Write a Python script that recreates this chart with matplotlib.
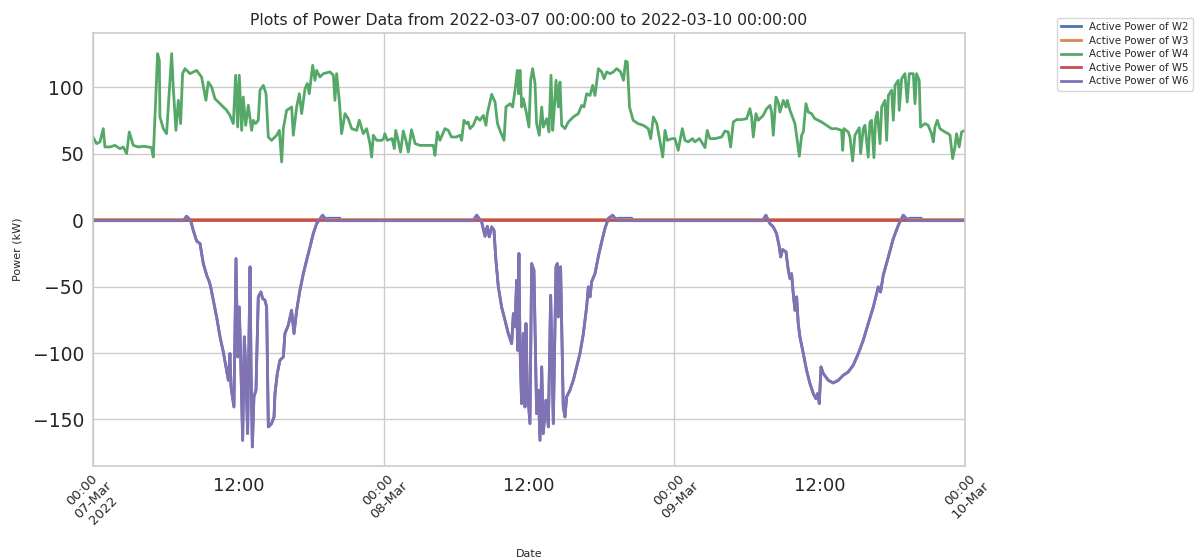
import matplotlib
matplotlib.use("Agg")
import matplotlib.pyplot as plt
import numpy as np
import pandas as pd

START = "2022-03-07 00:00:00"
END = "2022-03-10 00:00:00"

series_names = ["Active Power of W2", "Active Power of W3", "Active Power of W4",
                "Active Power of W5", "Active Power of W6"]
colors = ["#4c72b0", "#dd8452", "#55a868", "#c44e52", "#8172b3"]

major_labels = ["00:00\n07-Mar\n2022", "00:00\n08-Mar", "00:00\n09-Mar", "00:00\n10-Mar"]
minor_labels = ["12:00", "12:00", "12:00"]
yticks = [-150, -100, -50, 0, 50, 100]

# ---- W4 (green): hours from start, values in kW ----
w4_day1_h = [0, 0.3, 0.58, 0.85, 0.99, 1.4, 1.82, 2.23, 2.5, 2.78, 3.0, 3.33, 3.74, 4.16, 4.57, 4.84, 4.98,
             5.34, 5.48, 5.53, 5.81, 6.08, 6.22, 6.5, 6.63, 6.85, 7.05, 7.24, 7.4, 7.6, 8.01, 8.56, 8.97,
             9.25, 9.33, 9.52, 9.8, 10.07, 10.49, 11.04, 11.31, 11.59, 11.78, 11.95, 12.08, 12.28, 12.41,
             12.61, 12.83, 13.1, 13.24, 13.43, 13.65, 13.79, 14.07, 14.29, 14.48, 14.75, 15.17, 15.39,
             15.58, 15.72, 15.99, 16.41, 16.54, 16.82, 17.04, 17.23, 17.51, 17.7, 17.86, 18.14, 18.33,
             18.47, 18.74, 19.02, 19.57, 19.85, 19.98, 20.12, 20.34, 20.53, 20.81, 21.08, 21.36, 21.77,
             21.99, 22.32, 22.6, 22.87, 23.01, 23.15, 23.42, 23.84]
w4_day1_v = [62.7, 57.7, 59, 69, 55.2, 55.2, 56.4, 53.9, 55.2, 50.2, 66.5, 56.4, 55.2, 55.7, 55.2, 54.7, 47.6,
             125.5, 120.4, 77.8, 69, 65.2, 85.3, 125.5, 100.4, 67.7, 90.3, 72.8, 110.4, 114.2, 110.4, 112.9,
             107.9, 94.1, 90.3, 104.1, 100.4, 91.6, 87.8, 82.8, 79, 72.8, 109.2, 70.2, 109.2, 67.7, 92.8,
             71.5, 86.6, 67.7, 75.3, 72.8, 75.3, 97.9, 101.6, 95.3, 62.7, 60.2, 64, 67.7,
             43.9, 69, 82.8, 85.3, 64, 85.3, 95.3, 80.3, 99.1, 102.9, 95.3, 116.7, 105.4,
             112.9, 107.9, 110.4, 111.7, 109.2, 90.3, 110.4, 90.3, 65.2, 80.3, 76.5, 69, 67.7,
             75.3, 65.2, 69, 57.7, 47.6, 64, 60.2, 60.2]

w4_day2_h = [24.0, 24.1, 24.3, 24.7, 24.88, 25.0, 25.2, 25.4, 25.62, 25.84, 26.04, 26.3, 26.6, 27.0, 27.6,
             28.1, 28.24, 28.43, 28.65, 29.06, 29.34, 29.6, 30.0, 30.3, 30.44, 30.63, 30.85, 30.98, 31.13,
             31.4, 31.68, 31.95, 32.23, 32.45, 32.56, 32.92, 33.2, 33.4, 33.6, 33.94, 34.1, 34.43, 34.65,
             34.85, 35.04, 35.15, 35.26, 35.4, 35.53, 35.8, 36.0, 36.14, 36.3, 36.5, 36.63, 36.85, 37.05,
             37.19, 37.46, 37.65, 37.82, 37.96, 38.1, 38.23, 38.42, 38.56, 38.7, 38.97, 39.25, 39.66,
             40.07, 40.35, 40.54, 40.76, 41.04, 41.26, 41.45, 41.73, 42.0, 42.2, 42.42, 42.7, 42.97,
             43.24, 43.57, 43.8, 43.98, 44.12, 44.3, 44.6, 45.0, 45.44, 45.85, 46.05, 46.27, 46.55,
             46.8, 47.04, 47.23, 47.42, 47.8]
w4_day2_v = [61.5, 65.2, 60.2, 61.5, 54, 67.7, 60, 51.4, 67.2, 60.2, 51.4, 68.2, 57.7, 56.4, 56.4,
             56.4, 48.9, 66.5, 60.2, 69, 67.7, 62.7, 62.7, 64, 60.2, 75.3, 72.8, 74, 69,
             71.5, 77.8, 75.3, 79, 71.5, 80.3, 94.8, 89, 72.8, 67.7, 60.2, 85.3, 87.8, 85.3,
             97.9, 112.9, 95.3, 112.9, 85.3, 91.6, 80.3, 70.2, 105.4, 114.2, 102.9, 72.8, 64, 85.3,
             70.2, 76.5, 66.5, 109.2, 67.7, 85.3, 105.4, 85.3, 104.1, 71.5, 69, 74, 77.8,
             80.3, 86.5, 85.3, 95.3, 94, 101.6, 94, 114.2, 111.7, 106.6, 111.7, 110.4, 111.7,
             114.2, 111.7, 105.4, 119.9, 119.2, 85.3, 75.3, 72.8, 71.5, 69, 61.5, 77.8, 72.8,
             60.2, 47.6, 67.7, 60.2, 61.5]

w4_day3_h = [48.05, 48.32, 48.66, 48.88, 49.15, 49.5, 49.7, 50.06, 50.25, 50.53, 50.72, 50.94, 51.35,
             51.9, 52.18, 52.45, 52.65, 52.87, 53.14, 53.55, 53.97, 54.24, 54.38, 54.52, 54.74, 54.93,
             55.34, 55.62, 55.9, 56.03, 56.17, 56.39, 56.58, 56.72, 57.0, 57.22, 57.33, 57.55, 57.96,
             58.15, 58.32, 58.51, 58.65, 58.87, 59.06, 59.33, 59.6, 59.88, 60.16, 60.57, 60.98, 61.4,
             61.81, 61.9, 62.0, 62.36, 62.5, 62.72, 62.91, 63.27, 63.38, 63.6, 63.74, 64.01, 64.15,
             64.29, 64.48, 64.62, 64.76, 64.98, 65.12, 65.39, 65.53, 65.67, 65.94, 66.08, 66.22, 66.49,
             66.57, 66.77, 67.04, 67.23, 67.4, 67.73, 67.87, 68.0, 68.22, 68.33, 68.69, 68.96, 69.24,
             69.38, 69.52, 69.71, 69.93, 70.34, 70.62, 70.76, 70.98, 71.17, 71.3, 71.52, 71.72, 72.0]
w4_day3_v = [61.5, 52.7, 69, 60.2, 59, 61.5, 59, 61.5, 59, 54.7, 67.7, 61.5, 61.5,
             62.7, 67.2, 66.5, 55.2, 74, 75.8, 75.8, 76.5, 84, 77.8, 62.7, 80.3, 75.3,
             79, 84, 86.5, 81.5, 64, 92.8, 89, 81.5, 90.3, 85.3, 90.3, 82.8, 72.8,
             60.2, 48.2, 64, 66.5, 87.8, 81.5, 80.3, 76.5, 75.3, 74, 71.5, 69, 69,
             67.7, 52.7, 69, 66.5, 62.7, 44.6, 64, 69.7, 50.2, 69, 71.5, 47.6, 74,
             75.3, 47.1, 76.5, 81.5, 57.7, 85.3, 90.3, 60.2, 94, 97.9, 75.3, 101.6, 105.4,
             82.8, 106.6, 110.4, 89, 110.4, 110.4, 87.8, 110.4, 105.4, 70.2, 72.8, 71.5, 65.2,
             59, 70.2, 75.3, 69, 66.5, 65.2, 64, 46.4, 55.2, 65.2, 55.2, 66.5, 67.7]

# ---- W6 (purple) ----
w6_h = [0, 7.46, 7.73, 8.06, 8.28, 8.56, 8.84, 9.11, 9.39, 9.61, 9.72, 9.94, 10.21, 10.49, 10.76, 10.98,
        11.18, 11.31, 11.4, 11.64, 11.81, 11.95, 12.08, 12.19, 12.36, 12.5, 12.63, 12.77, 12.97, 13.05,
        13.16, 13.29, 13.46, 13.65, 13.87, 14.01, 14.2, 14.34, 14.48, 14.75, 14.95, 15.03, 15.22, 15.44,
        15.72, 15.85, 16.13, 16.4, 16.6, 16.82, 17.09, 17.37, 17.64, 17.92, 18.19, 18.47, 18.96, 19.3,
        31.4, 31.68, 32.09, 32.37, 32.56, 32.72, 32.92, 33.11, 33.27, 33.47, 33.74, 34.02, 34.29, 34.57,
        34.71, 34.84, 34.98, 35.06, 35.17, 35.26, 35.39, 35.53, 35.67, 35.75, 35.86, 36.08, 36.22, 36.41,
        36.63, 36.77, 36.91, 37.05, 37.18, 37.4, 37.6, 37.79, 38.01, 38.23, 38.34, 38.42, 38.61, 38.83,
        38.97, 39.11, 39.38, 39.66, 39.94, 40.21, 40.49, 40.76, 40.9, 41.04, 41.17, 41.45, 41.72, 42.0,
        42.27, 42.55, 42.91, 43.24,
        55.3, 55.56, 55.89, 56.17, 56.44, 56.67, 56.78, 56.94, 57.22, 57.41, 57.55, 57.68, 57.82, 57.96,
        58.1, 58.23, 58.37, 58.65, 58.92, 59.2, 59.47, 59.69, 59.83, 59.97, 60.11, 60.3, 60.71, 61.12,
        61.54, 61.95, 62.36, 62.77, 63.19, 63.6, 64.01, 64.43, 64.84, 65.03, 65.25, 65.67, 66.08, 66.49,
        66.9, 67.32, 72.0]
w6_v = [-0.3, -0.3, 3, 0, -7.5, -15.6, -17.6, -32.6, -41.4, -46.4, -50.2, -60.2, -72.8, -87.8, -99.1, -110.4,
        -120.5, -100.4, -125.5, -140.6, -28.9, -102.9, -65.3, -100.4, -165.7, -87.8, -115.4, -160.6, -35.1, -110.4,
        -170.7, -133, -128, -57.7, -54, -59, -60.2, -65.3, -155.6, -153.1, -148.1, -130.5, -115.5, -105.4,
        -102.9, -85.3, -79, -67.8, -85.3, -67.8, -52.7, -40.2, -30.1, -20.1, -10, -2.5, 3.8, -0.3,
        -0.3, 3.8, -1.2, -12, -4.5, -12.5, -5, -7.5, -30.1, -50.2, -65.3, -75.3, -85.3, -92.9,
        -70.3, -80.3, -45.2, -97.9, -25.1, -95.4, -138, -85.3, -140.6, -77.8, -125.5, -153.1, -32.6, -37.6,
        -145.6, -128, -165.7, -110.4, -160.6, -135.5, -155.6, -56.5, -153.1, -35.1, -32.6, -72.8, -35.1, -140.6,
        -148.1, -133, -128, -120.5, -110.4, -100.4, -85.3, -65.3, -50.2, -57.7, -46.4, -40.2, -27.6, -16.3,
        -6.3, 1.3, 3.8, -0.3,
        -0.3, 3.8, -2.5, -5, -10, -20.1, -27.6, -22.1, -23.8, -37.6, -43.9, -40.2, -55.2, -67.8,
        -57.7, -77.8, -87.8, -100.4, -113, -123, -130.5, -134.3, -130.5, -138, -110.4, -115.4, -120.5, -122.5,
        -120.5, -116.7, -114.2, -109.2, -100.4, -90.3, -77.8, -65.3, -50.2, -54, -41.4, -27.6, -13.8, -3.8,
        3.8, -0.3, -0.3]

# ---- W2 (blue): same as W6 except a short evening plateau each day ----
w2_tail_h = [19.35, 20.4, 20.45, 43.3, 44.5, 44.55, 67.4, 68.4, 68.45]
w2_tail_v = [1.5, 1.5, -0.3, 1.5, 1.5, -0.3, 1.5, 1.5, -0.3]

# ---- W3 (orange) and W5 (red) ----
w3_h = [0, 72]
w3_v = [0.9, 0.9]
w5_h = [0, 72]
w5_v = [0.0, 0.0]

t0 = pd.Timestamp(START)


def to_time(hours):
    return t0 + pd.to_timedelta(np.asarray(hours, dtype=float), unit="h")


w4_h = w4_day1_h + w4_day2_h + w4_day3_h
w4_v = w4_day1_v + w4_day2_v + w4_day3_v

w2_pairs = sorted(list(zip(w6_h, w6_v)) + list(zip(w2_tail_h, w2_tail_v)))
w2_h = [p[0] for p in w2_pairs]
w2_v = [p[1] for p in w2_pairs]

data = [(w2_h, w2_v), (w3_h, w3_v), (w4_h, w4_v), (w5_h, w5_v), (w6_h, w6_v)]

fig = plt.figure(figsize=(12.04, 5.6), dpi=100)
ax = fig.add_axes([0.0772, 0.168, 0.7243, 0.773])

for (h, v), name, c in zip(data, series_names, colors):
    ax.plot(to_time(h), v, color=c, lw=2.0, label=name)

ax.set_xlim(pd.Timestamp(START), pd.Timestamp(END))
ax.set_ylim(-185, 141)
ax.set_yticks(yticks)
ax.set_yticklabels([str(t).replace("-", "\u2212") for t in yticks], fontsize=13.5, color="#262626")

major_pos = to_time([0, 24, 48, 72])
minor_pos = to_time([12, 36, 60])
ax.set_xticks(major_pos)
ax.set_xticklabels(major_labels, rotation=45, fontsize=9.5, color="#262626", ha="center")
ax.set_xticks(minor_pos, minor=True)
ax.set_xticklabels(minor_labels, minor=True, fontsize=13, color="#262626")
ax.tick_params(axis="both", which="both", length=0)
ax.tick_params(axis="x", which="major", pad=2)
ax.tick_params(axis="x", which="minor", pad=8)
ax.tick_params(axis="y", which="major", pad=6.5)

ax.set_facecolor("white")
ax.grid(True, which="major", color="#cccccc", lw=1.0)
ax.grid(False, which="minor")
ax.set_axisbelow(True)
for s in ax.spines.values():
    s.set_color("#cccccc")
    s.set_linewidth(1.2)

ax.set_title("Plots of Power Data from 2022-03-07 00:00:00 to 2022-03-10 00:00:00",
             fontsize=11.3, color="#262626", pad=6)
ax.set_xlabel("Date", fontsize=8, color="#262626", labelpad=12.5)
ax.set_ylabel("Power (kW)", fontsize=8, color="#262626", labelpad=7.5)

leg = ax.legend(loc="upper left", bbox_to_anchor=(1.105, 1.035), borderaxespad=0,
                fontsize=7.4, frameon=True, edgecolor="#cccccc", labelspacing=0.35)
for t in leg.get_texts():
    t.set_color("#262626")

fig.savefig("out.png", dpi=100, facecolor="white")
